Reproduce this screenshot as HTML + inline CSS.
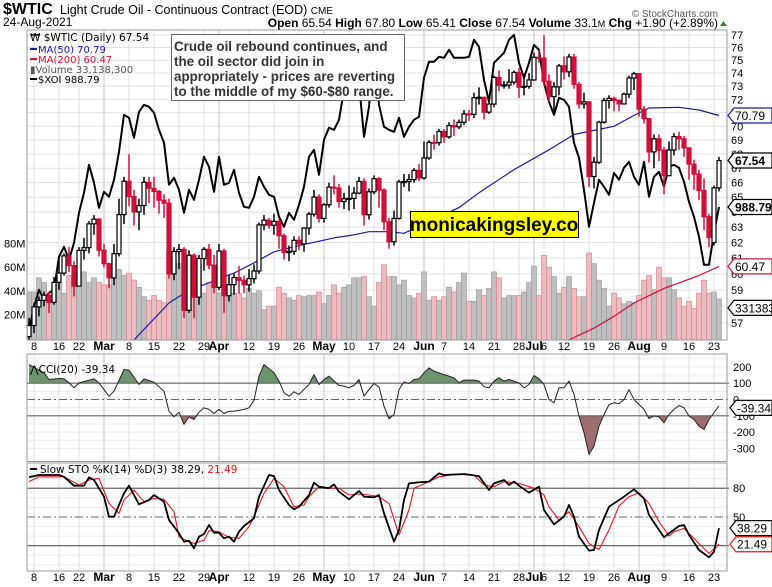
<!DOCTYPE html>
<html><head><meta charset="utf-8"><style>
html,body{margin:0;padding:0;background:#fff;}
svg{display:block;font-family:"Liberation Sans",Arial,sans-serif;}
.ax{font-size:11px;fill:#000;}
.lg{font-family:"DejaVu Sans",sans-serif;font-size:10.5px;}
</style></head><body>
<svg id="c" width="772" height="587" viewBox="0 0 772 587" xmlns="http://www.w3.org/2000/svg">
<rect x="0" y="0" width="772" height="587" fill="#fff"/>
<text x="3" y="14" font-size="16" font-weight="bold">$WTIC</text>
<text x="60" y="14" font-size="12.5">Light Crude Oil - Continuous Contract (EOD) <tspan font-size="10">CME</tspan></text>
<text x="3" y="26" font-size="12">24-Aug-2021</text>
<text x="718" y="17" font-size="10" fill="#555" text-anchor="end">© StockCharts.com</text>
<text x="718" y="27" font-size="12" text-anchor="end"><tspan font-weight="bold">Open</tspan> 65.54 <tspan font-weight="bold">High</tspan> 67.80 <tspan font-weight="bold">Low</tspan> 65.41 <tspan font-weight="bold">Close</tspan> 67.54 <tspan font-weight="bold">Volume</tspan> 33.1<tspan font-size="9">M</tspan> <tspan font-weight="bold">Chg</tspan> +1.90 (+2.89%)</text>
<polygon points="720,26 727,26 723.5,21" fill="#2a8a2a"/>
<g id="g"></g>
</svg>
<script>
// ---------- data ----------
const dateLabels=["8","16","22","Mar","8","15","22","29","Apr","12","19","26","May","10","17","24","Jun","7","14","21","28","Jul","6","12","19","26","Aug","9","16","23"];
const dateIdx=[1,6,10,15,20,25,30,35,38,44,49,54,59,64,69,74,79,83,88,93,98,101,103,107,112,117,122,127,132,137];
const monthLabel=[0,0,0,1,0,0,0,0,1,0,0,0,1,0,0,0,1,0,0,0,0,1,0,0,0,0,1,0,0,0];
const closes=[56.85,57.97,58.36,58.68,58.24,59.47,60.05,61.14,60.52,59.24,61.49,61.67,63.22,63.53,61.50,60.64,59.75,61.28,63.83,66.09,65.05,64.01,64.44,66.02,65.61,65.39,64.80,64.60,60.00,61.42,61.55,57.76,61.18,58.56,60.97,61.56,60.55,59.16,61.45,58.65,59.33,59.77,59.60,59.32,59.70,60.18,63.15,63.46,63.13,63.38,62.44,61.35,61.43,62.14,61.91,62.94,63.86,65.01,63.58,64.49,65.69,65.63,64.71,64.90,64.92,65.28,66.08,63.82,65.37,66.27,65.49,63.36,62.05,63.58,66.05,66.07,66.21,66.85,66.32,67.72,68.83,68.81,69.62,69.23,70.05,69.96,70.29,70.91,70.88,72.12,72.15,71.04,71.64,73.66,73.06,73.08,73.30,74.05,72.91,72.98,73.47,75.23,75.16,73.37,72.20,72.94,74.56,74.10,75.25,73.13,71.65,71.81,66.42,67.42,70.30,71.91,72.07,71.91,71.65,72.39,73.62,73.95,71.26,70.56,68.15,69.09,68.28,66.48,68.29,69.25,69.09,68.44,67.29,66.59,65.46,63.69,62.32,65.64,67.54];
const opens=[56.20,56.85,57.97,58.36,58.68,58.24,59.47,60.05,61.14,60.52,59.24,61.49,61.67,63.22,63.53,61.50,60.64,59.75,61.28,63.83,66.09,65.05,64.01,64.44,66.02,65.61,65.39,64.80,64.60,60.00,61.42,61.55,57.76,61.18,58.56,60.97,61.56,60.55,59.16,61.45,58.65,59.33,59.77,59.60,59.32,59.70,60.18,63.15,63.46,63.13,63.38,62.44,61.35,61.43,62.14,61.91,62.94,63.86,65.01,63.58,64.49,65.69,65.63,64.71,64.90,64.92,65.28,66.08,63.82,65.37,66.27,65.49,63.36,62.05,63.58,66.05,66.07,66.21,66.85,66.32,67.72,68.83,68.81,69.62,69.23,70.05,69.96,70.29,70.91,70.88,72.12,72.15,71.04,71.64,73.66,73.06,73.08,73.30,74.05,72.91,72.98,73.47,75.23,75.16,73.37,72.20,72.94,74.56,74.10,75.25,73.13,71.65,71.81,66.42,67.42,70.30,71.91,72.07,71.91,71.65,72.39,73.62,73.95,71.26,70.56,68.15,69.09,68.28,66.48,68.29,69.25,69.09,68.44,67.29,66.59,65.46,63.69,62.00,65.64];
const highs=[57.3,58.2,58.6,58.9,58.9,59.8,60.9,61.3,61.7,60.8,61.7,62.3,63.4,63.8,63.6,61.9,60.7,61.9,64.9,66.4,67.98,65.5,64.9,66.4,66.4,66.4,65.5,65.2,64.9,61.7,61.9,61.7,61.5,61.3,61.2,61.7,61.9,61.2,61.9,61.6,59.9,60.0,60.5,59.9,60.3,60.6,63.3,63.8,63.6,63.9,63.5,62.6,61.8,62.4,62.4,63.0,64.0,65.5,65.2,64.6,66.0,66.5,65.9,65.3,65.8,65.7,66.4,66.3,65.6,66.5,66.4,65.6,63.6,64.1,66.2,66.6,66.6,67.0,67.3,68.9,69.0,69.4,69.8,69.8,70.3,70.5,70.5,71.2,71.2,72.5,72.9,72.2,71.8,73.8,74.2,73.4,74.3,74.2,74.4,73.6,74.0,75.6,75.8,76.98,73.9,73.3,74.7,75.3,75.5,75.5,73.3,72.5,71.7,67.8,70.4,72.1,72.3,72.2,72.0,72.5,73.8,74.1,73.9,71.5,70.6,69.4,69.4,68.5,68.9,69.5,69.6,69.3,68.3,67.6,66.9,66.3,63.9,65.8,67.8];
const lows=[55.9,56.4,57.4,58.0,57.6,58.1,59.0,59.9,60.1,58.6,59.3,60.9,61.3,62.5,61.1,60.4,59.1,59.3,61.1,63.2,64.4,63.1,62.8,63.8,64.6,64.3,63.9,63.6,59.7,59.6,60.3,57.3,57.6,57.3,58.1,60.2,60.3,58.8,59.0,57.6,58.3,58.7,58.8,58.8,58.9,59.4,60.0,62.8,62.9,62.5,61.6,60.9,60.8,61.2,61.5,61.4,62.5,63.7,63.3,63.3,64.3,65.2,64.3,64.2,64.1,64.2,65.2,63.1,63.5,65.2,64.3,62.8,61.6,61.8,63.5,65.7,65.4,66.0,66.1,66.2,67.6,68.3,68.6,68.8,69.1,69.3,69.8,70.1,70.4,70.6,71.6,70.5,70.9,71.4,72.6,72.8,72.8,73.1,72.1,72.3,72.8,73.4,74.8,73.0,71.8,70.8,72.3,73.5,73.7,72.8,71.3,71.3,65.7,65.6,67.3,70.2,71.3,71.1,71.1,71.7,72.1,72.7,70.7,70.2,67.4,67.0,67.5,65.2,66.7,67.9,68.3,67.8,66.2,65.5,64.8,62.8,61.7,61.8,65.4];
const volumes=[39,39,51,47,35,43,47,38,53,51,53,56,47,51,47,45,45,68,58,53,55,49,43,35,32,36,32,30,73,66,63,72,63,66,63,38,47,47,38,47,38,38,38,34,42,38,40,24,27,27,43,38,34,32,36,35,36,36,39,29,36,45,38,43,45,51,51,52,35,27,47,62,52,52,45,49,36,34,38,56,32,35,32,35,43,39,47,55,31,31,41,36,42,56,51,34,36,36,36,39,47,61,36,70,60,52,38,43,52,42,35,35,72,63,49,42,27,38,34,29,31,30,36,49,53,41,60,51,51,41,34,27,31,25,38,49,38,39,33.14];
const xoi=[866,889,906,896,903,906,939,949,936,953,983,1003,1031,1013,988,1004,999,1016,1044,1081,1078,1058,1084,1091,1089,1083,1066,1053,1011,1018,1006,983,1006,996,1016,1039,1029,1004,1039,1011,1013,1026,1003,989,988,999,1019,1009,1001,999,979,969,983,976,991,1009,1039,1046,1021,1056,1068,1066,1076,1106,1133,1119,1113,1059,1089,1146,1091,1069,1066,1064,1078,1059,1069,1076,1079,1118,1134,1134,1139,1138,1146,1138,1138,1138,1139,1156,1149,1116,1094,1133,1138,1143,1156,1161,1133,1118,1133,1151,1146,1113,1094,1081,1098,1096,1089,1053,1038,1006,969,993,1016,1009,1001,1023,1016,1028,1034,1019,1011,1034,999,1019,1024,1009,1029,1031,1028,1014,994,979,959,931,931,963,988.79];
const ma50Idx=[21,28,30,34,41,45,49,54,61,65,68,72,75,86,90,97,104,109,113,117,121,124,130,134,138];
const ma50Val=[56.0,58.2,58.6,59.2,60.05,60.7,61.4,61.8,62.3,62.5,62.7,62.7,62.6,64.3,65.3,66.9,68.3,69.4,69.7,70.0,70.8,71.35,71.4,71.2,70.79];
const ma200Idx=[108,113,117,121,127,134,138];
const ma200Val=[56.0,56.7,57.4,58.2,59.1,59.9,60.47];
const cciIdx=[0,3,4,6,7,8,9,10,13,14,16,17,19,20,22,23,25,27,28,29,30,31,32,33,34,35,36,37,38,39,40,41,43,44,45,46,47,49,50,51,52,53,54,56,57,58,59,60,62,63,64,65,66,67,68,69,70,71,72,73,74,75,76,77,78,79,80,81,83,85,86,87,89,90,91,92,93,94,95,96,98,99,100,101,102,103,104,105,106,107,108,109,110,111,112,113,114,115,116,117,118,119,120,121,123,124,125,126,127,128,129,130,131,132,133,134,135,136,138];
const cciVal=[215,164,123,129,127,102,72,102,127,102,20,51,184,180,92,127,106,51,-72,-106,-78,-153,-106,-123,-78,-51,-61,-86,-61,-86,-72,-72,-61,-51,-5,143,215,164,113,41,20,47,31,92,153,92,123,143,86,82,72,86,123,20,61,98,78,-41,-119,-92,61,108,98,123,127,164,194,174,153,133,102,119,119,113,78,72,113,133,113,123,102,72,92,147,127,92,0,-20,72,72,113,31,-102,-204,-337,-286,-164,-92,-31,-20,-26,0,61,0,-61,-117,-102,-106,-143,-92,-61,-37,-51,-102,-123,-164,-184,-123,-39.34];
const stoKIdx=[0,2,6,7,9,11,12,13,15,16,17,19,20,22,24,25,27,28,30,31,32,33,34,35,36,37,38,39,40,41,42,43,45,46,48,49,50,52,53,54,56,57,58,60,61,62,64,66,67,69,70,71,73,74,75,76,78,80,82,83,87,90,92,93,95,96,97,98,100,102,103,105,107,108,109,110,112,113,114,116,117,119,121,123,124,126,127,128,130,131,132,134,136,137,138];
const stoKVal=[91.4,93.8,93.8,92,82.7,82.7,91.4,88.6,71.2,50.3,50.3,74.7,82.7,63.2,67.7,72.9,65.9,46.8,32.9,24.1,25.2,17.2,29.4,32.2,41.6,33.5,33.5,27.7,29.4,24.1,34.6,40.5,48.6,71.2,93.8,92.7,78.2,62.5,58,60.6,72.9,85.8,81.6,80,84,76.4,68.4,77.2,71.2,70.5,72.9,53.8,24.1,36.4,67.7,85.1,86.2,86.9,95.6,93.8,94.9,92.7,78.2,85.1,88.6,83.4,86.9,82.7,75.3,81.6,57.3,42.3,50.3,62.5,50.3,29.4,14.8,15.5,36.4,60.6,64.2,71.2,78.9,69.3,52,36.4,28.7,32.9,40.5,41.6,31.2,15.5,7.8,13.6,38.29];
const stoDIdx=[0,2,7,10,12,14,16,18,19,21,23,25,27,29,30,32,33,35,36,38,40,42,44,45,47,49,51,53,55,56,58,60,62,64,66,68,70,72,74,76,77,80,82,85,89,91,93,95,98,101,103,104,106,108,110,112,114,116,118,120,122,124,126,128,129,131,134,136,138];
const stoDVal=[86.9,92,92,83.4,88.6,90.3,64.2,53.8,67.7,78.2,65.9,69.3,68.4,55.5,29.4,24.1,22.3,25.8,35.6,34.6,28.7,27.7,39.8,50.3,74.7,90.3,81.6,60.6,62.5,71.2,81.6,80,80,72.9,74,72.9,71.2,64.2,31.2,57.3,80,86.9,92,94.5,93.8,83.4,81.6,86.9,85.1,80,72.9,60.6,46.8,55.5,39.8,22.3,16,36.4,61.4,71.2,75.3,64.2,45.1,30,34.6,38,22.3,11.9,21.49];
const priceTicks=[77,76,75,74,73,72,71,70,69,68,67,66,65,64,63,62,61,60,59,58,57];
const volTicks=[80,60,40,20];
const volTickLabels=["80M","60M","40M","20M"];
const cciTicks=[200,100,0,-100,-200,-300];
const stoTicks=[80,50];

// ---------- scales ----------
const X0=27,X1=727,MT=30,MB=340,CT=354,CB=461.5,ST=463,SB=571;
function xI(i){return 29+5*i;}
function yP(p){return 35+288*Math.log(77/p)/Math.log(77/57);}
function yV(v){return 338-v*1.18;}
function yX(v){return 1195.79-v;}
function yC(v){return 399.5-v*0.163;}
function yS(v){return 564.8-v*0.957;}
const NS="http://www.w3.org/2000/svg";
const G=document.getElementById('g');
function mk(tag,at,parent){const e=document.createElementNS(NS,tag);for(const k in at)e.setAttribute(k,at[k]);(parent||G).appendChild(e);return e;}
const RED="#d0103a";

const defs=mk('defs',{});


const cp=mk('clipPath',{id:'mainClip'},defs);
mk('rect',{x:X0,y:MT,width:X1-X0,height:MB-MT},cp);
const cpa=mk('clipPath',{id:'cciAbove'},defs);
mk('rect',{x:X0,y:CT,width:X1-X0,height:yC(100)-CT},cpa);
const cpb=mk('clipPath',{id:'cciBelow'},defs);
mk('rect',{x:X0,y:yC(-100),width:X1-X0,height:CB-yC(-100)},cpb);

[[MT,MB,'price-panel'],[CT,CB,'cci-panel'],[ST,SB,'stoch-panel']].forEach(p=>{
  const r=mk('rect',{x:X0,y:p[0],width:X1-X0,height:p[1]-p[0],fill:'#fff',stroke:'none'});
  
  
});

priceTicks.forEach(p=>{
  const l=mk('line',{x1:X0,x2:X1,y1:yP(p),y2:yP(p),stroke:'#e2e2e2','stroke-width':1});
  
  
});
for(let v=-300;v<=250;v+=50){
  const l=mk('line',{x1:X0,x2:X1,y1:yC(v),y2:yC(v),stroke:'#ececec','stroke-width':1});
  
  
}
for(let v=0;v<=100;v+=10){
  const l=mk('line',{x1:X0,x2:X1,y1:yS(v),y2:yS(v),stroke:'#ececec','stroke-width':1});
  
  
}
dateIdx.forEach((d,k)=>{
  const x=xI(d);
  [[MT,MB],[CT,CB],[ST,SB]].forEach(p=>{
    const l=mk('line',{x1:x,x2:x,y1:p[0],y2:p[1],stroke:monthLabel[k]?'#c4c4c4':'#e2e2e2','stroke-width':1});
    
    
  });
  [350,581].forEach(y=>{
    const t=mk('text',{x:x,y:y,'text-anchor':'middle','font-size':monthLabel[k]?12:11,'font-weight':monthLabel[k]?'bold':'normal',fill:'#000'});
    t.textContent=dateLabels[k];
    
    
  });
});

const vg=mk('g',{'clip-path':'url(#mainClip)'});


volumes.forEach((v,i)=>{
  const down=i>0&&closes[i]<closes[i-1];
  const r=mk('rect',{x:xI(i)-2.5,y:yV(v),width:5,height:338-yV(v)+3,fill:down?'#ecbcc0':'#bfbfbf',stroke:down?'#d58a92':'#9e9e9e','stroke-width':0.7},vg);
  
  
});

const lg=mk('g',{'clip-path':'url(#mainClip)'});


function poly(idx,vals,fy,stroke,w,name,parent){
  const pts=idx.map((d,k)=>xI(d).toFixed(1)+','+fy(vals[k]).toFixed(1)).join(' ');
  const p=mk('polyline',{points:pts,fill:'none',stroke:stroke,'stroke-width':w,'stroke-linejoin':'round'},parent);
  
  
  return p;
}
poly(xoi.map((v,i)=>i),xoi,yX,'#000',2,'xoi-line',lg);
poly(ma50Idx,ma50Val,yP,'#1a1aa0',1.2,'ma50-line',lg);
poly(ma200Idx,ma200Val,yP,'#d0103a',1.2,'ma200-line',lg);

const cg=mk('g',{'clip-path':'url(#mainClip)'});


closes.forEach((c,i)=>{
  const o=opens[i],x=xI(i);
  const col=(i>0&&c<closes[i-1])?RED:'#000';
  const w=mk('line',{x1:x,x2:x,y1:yP(highs[i]),y2:yP(lows[i]),stroke:col,'stroke-width':1.5},cg);
  
  
  const top=yP(Math.max(o,c)),bot=yP(Math.min(o,c));
  const b=mk('rect',{x:x-2,y:top,width:4,height:Math.max(bot-top,1),fill:c>=o?'#fff':col,stroke:col,'stroke-width':1.2},cg);
  
  
});

const mb=mk('rect',{x:X0,y:MT,width:X1-X0,height:MB-MT,fill:'none',stroke:'#9a9a9a','stroke-width':1});



priceTicks.forEach(p=>{
  const t=mk('text',{x:731,y:yP(p)+4,class:'ax'});
  t.textContent=p;
  
  
});
volTicks.forEach((v,k)=>{
  const t=mk('text',{x:4,y:yV(v)+4,class:'ax'});
  t.textContent=volTickLabels[k];
  
  
});

function tag(y,txt,stroke,bold,x0,name){
  const g=mk('g',{});
  
  
  const p=mk('polygon',{points:`${x0},${y} ${x0+6},${y-7.5} 772,${y-7.5} 772,${y+7.5} ${x0+6},${y+7.5}`,fill:'#fff',stroke:stroke,'stroke-width':1.2},g);
  
  
  const t=mk('text',{x:x0+7,y:y+4.5,'font-size':12,'font-weight':bold?'bold':'normal',fill:'#000'},g);
  t.textContent=txt;
  
  
}
tag(yP(ma50Val[ma50Val.length-1]),'70.79','#1a1aa0',false,728,'ma50-tag');
tag(yP(closes[closes.length-1]),'67.54','#000',true,728,'close-tag');
tag(yX(xoi[xoi.length-1]),'988.79','#000',true,728,'xoi-tag');
tag(yP(ma200Val[ma200Val.length-1]),'60.47','#d0103a',false,728,'ma200-tag');
tag(yV(volumes[volumes.length-1])+9,'33138300','#000',false,728,'volume-tag');

const cciPts=cciIdx.map((d,k)=>[xI(d),yC(cciVal[k])]);
function areaPath(base){
  let s=`M${cciPts[0][0]},${base}`;
  cciPts.forEach(p=>s+=` L${p[0].toFixed(1)},${p[1].toFixed(1)}`);
  return s+` L${cciPts[cciPts.length-1][0]},${base} Z`;
}
const fa=mk('path',{d:areaPath(yC(100)),fill:'#6e946e',stroke:'none','clip-path':'url(#cciAbove)'});


const fb=mk('path',{d:areaPath(yC(-100)),fill:'#9e6e6e',stroke:'none','clip-path':'url(#cciBelow)'});


[100,-100].forEach(v=>{
  const l=mk('line',{x1:X0,x2:X1+2,y1:yC(v),y2:yC(v),stroke:'#666','stroke-width':1.2});
  
  
});
const z0=mk('line',{x1:X0,x2:X1+2,y1:yC(0),y2:yC(0),stroke:'#666','stroke-width':1,'stroke-dasharray':'8,3,2,3'});


poly(cciIdx,cciVal,yC,'#222',1,'cci-line');
cciTicks.forEach(v=>{
  const t=mk('text',{x:733,y:yC(v)+4,class:'ax'});
  t.textContent=v;
  
  
});
tag(yC(cciVal[cciVal.length-1])+2,'-39.34','#000',false,730,'cci-tag');
const cb=mk('rect',{x:X0,y:CT,width:X1-X0,height:CB-CT,fill:'none',stroke:'#9a9a9a','stroke-width':1});



[80,20].forEach(v=>{
  const l=mk('line',{x1:X0,x2:X1+2,y1:yS(v),y2:yS(v),stroke:'#666','stroke-width':1.2});
  
  
});
const s50=mk('line',{x1:X0,x2:X1+2,y1:yS(50),y2:yS(50),stroke:'#666','stroke-width':1,'stroke-dasharray':'8,3,2,3'});


poly(stoDIdx,stoDVal,yS,'#e8141e',1.1,'stoch-d-line');
poly(stoKIdx,stoKVal,yS,'#000',1.8,'stoch-k-line');
stoTicks.forEach(v=>{
  const t=mk('text',{x:733,y:yS(v)+4,class:'ax'});
  t.textContent=v;
  
  
});
tag(yS(stoKVal[stoKVal.length-1]),'38.29','#000',false,730,'stoch-k-tag');
tag(yS(stoDVal[stoDVal.length-1]),'21.49','#e8141e',false,730,'stoch-d-tag');
const sb=mk('rect',{x:X0,y:ST,width:X1-X0,height:SB-ST,fill:'none',stroke:'#9a9a9a','stroke-width':1});


</script>
<svg style="position:absolute;left:0;top:0" width="772" height="587">
<g class="lg">
<text x="30" y="41" font-family="DejaVu Sans,sans-serif" font-size="10.5">₩ $WTIC (Daily) 67.54</text>
<rect x="30" y="48" width="7" height="2" fill="#1a1aa0"/>
<text x="38" y="53" font-family="DejaVu Sans,sans-serif" font-size="10" fill="#1a1aa0">MA(50) 70.79</text>
<rect x="30" y="58" width="7" height="2" fill="#d0103a"/>
<text x="38" y="63" font-family="DejaVu Sans,sans-serif" font-size="10" fill="#d0103a">MA(200) 60.47</text>
<text x="30" y="73" font-family="DejaVu Sans,sans-serif" font-size="10" fill="#555">▮Volume 33,138,300</text>
<rect x="30" y="78" width="7" height="2" fill="#000"/>
<text x="38" y="83" font-family="DejaVu Sans,sans-serif" font-size="10">$XOI 988.79</text>
</g>
<rect x="171.5" y="34.5" width="233" height="66" fill="#fff" stroke="#666" stroke-width="1"/>
<text font-family="Liberation Sans,Arial,sans-serif" font-size="13.4" font-weight="bold" fill="#333">
<tspan x="174" y="51">Crude oil rebound continues, and</tspan>
<tspan x="174" y="66">the oil sector did join in</tspan>
<tspan x="174" y="81">appropriately - prices are reverting</tspan>
<tspan x="174" y="96">to the middle of my $60-$80 range.</tspan>
</text>
<rect x="410.5" y="211.5" width="168" height="26" fill="#ffff00" stroke="#000" stroke-width="1"/>
<text x="494" y="231" text-anchor="middle" font-family="Liberation Sans,Arial,sans-serif" font-size="19" font-weight="bold">monicakingsley.co</text>
<text x="30" y="373" font-family="DejaVu Sans,sans-serif" font-size="10.5">⋀CCI(20) -39.34</text>
<rect x="30" y="468" width="7" height="2" fill="#000"/>
<text x="40" y="473" font-family="DejaVu Sans,sans-serif" font-size="10.5">Slow STO %K(14) %D(3) 38.29, <tspan fill="#e8141e">21.49</tspan></text>
</svg>
</body></html>
